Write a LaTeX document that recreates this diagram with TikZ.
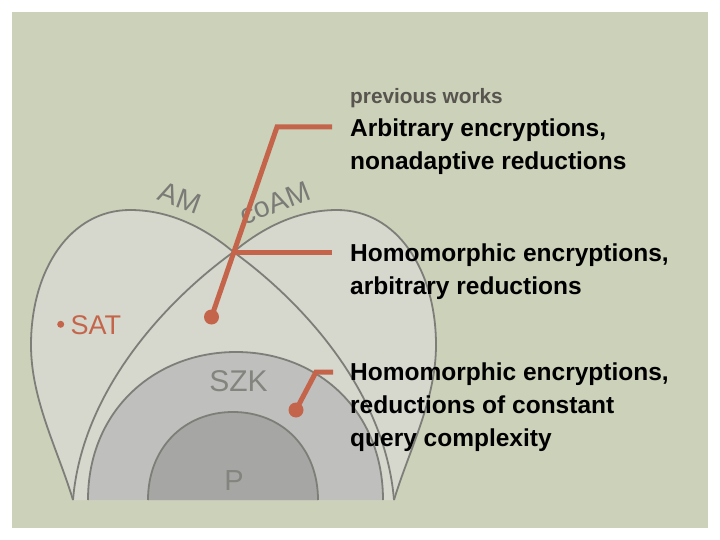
\documentclass[tikz,border=0pt]{standalone}
\usepackage{fontspec}
\setmainfont{Liberation Sans}
\definecolor{bgc}{RGB}{204,209,186}
\definecolor{lightfill}{RGB}{214,215,205}
\definecolor{szkfill}{RGB}{191,191,190}
\definecolor{pfill}{RGB}{166,166,165}
\definecolor{edge}{RGB}{125,126,120}
\definecolor{orng}{RGB}{196,101,75}
\definecolor{lbl}{RGB}{122,123,118}
\definecolor{prevc}{RGB}{88,84,78}
\tikzset{
  outline/.style={draw=edge, line width=1.8pt},
  conn/.style={draw=orng, line width=5pt},
  dotnode/.style={circle, fill=orng, inner sep=0pt, minimum size=15pt},
  desc/.style={anchor=base west, inner sep=0pt, font=\fontsize{24.5}{33}\selectfont\bfseries, text=black},
  setlbl/.style={inner sep=0pt, text=lbl, font=\fontsize{28.5}{32}\selectfont},
}
\begin{document}
\begin{tikzpicture}[x=1pt, y=-1pt]
\useasboundingbox (0,0) rectangle (720,540);
\fill[white] (0,0) rectangle (720,540);
\fill[bgc] (12,12) rectangle (708,528);
% lobes
\coordinate (X) at (233.5,252);
\coordinate (A) at (73,500);
\coordinate (B) at (394,500);
\fill[lightfill] (A) .. controls (58,450) and (31,400) .. (31,345)
  .. controls (31,270) and (70,210) .. (130,210)
  .. controls (170,210) and (205,228) .. (X)
  .. controls (300,300) and (385,390) .. (B) -- cycle;
\fill[lightfill] (B) .. controls (409,450) and (436,400) .. (436,345)
  .. controls (436,270) and (397,210) .. (337,210)
  .. controls (297,210) and (262,228) .. (X)
  .. controls (167,300) and (82,390) .. (A) -- cycle;
\draw[outline] (A) .. controls (58,450) and (31,400) .. (31,345)
  .. controls (31,270) and (70,210) .. (130,210)
  .. controls (170,210) and (205,228) .. (X)
  .. controls (300,300) and (385,390) .. (B);
\draw[outline] (B) .. controls (409,450) and (436,400) .. (436,345)
  .. controls (436,270) and (397,210) .. (337,210)
  .. controls (297,210) and (262,228) .. (X)
  .. controls (167,300) and (82,390) .. (A);
% SZK
\fill[szkfill] (88,500) .. controls (88,410) and (155,352) .. (236,352)
  .. controls (317,352) and (383,410) .. (383,500) -- cycle;
\draw[outline] (88,500) .. controls (88,410) and (155,352) .. (236,352)
  .. controls (317,352) and (383,410) .. (383,500);
% P
\fill[pfill] (148,500) .. controls (148,448) and (184,412) .. (233,412)
  .. controls (282,412) and (318,448) .. (318,500) -- cycle;
\draw[outline] (148,500) .. controls (148,448) and (184,412) .. (233,412)
  .. controls (282,412) and (318,448) .. (318,500);
% labels on sets
\node[setlbl, rotate=-20] (am) at (180,198) {AM};
\node[setlbl, rotate=21] (coam) at (275,203) {coAM};
\node[setlbl, font=\fontsize{30}{34}\selectfont, text=edge!95!white, anchor=base] (szk) at (238.5,391.5) {SZK};
\node[setlbl, font=\fontsize{29}{34}\selectfont, text=edge!95!white, anchor=base] (p) at (234,490.5) {P};
% SAT
\node[circle, fill=orng, inner sep=0pt, minimum size=7pt] (satdot) at (60.7,324.3) {};
\node[anchor=base west, inner sep=0pt, text=orng, font=\fontsize{27}{30}\selectfont] (sat) at (70.5,334.3) {SAT};
% text blocks
\node[anchor=base west, inner sep=0pt, text=prevc, font=\fontsize{20.8}{24}\selectfont\bfseries] (prev) at (350,104) {previous works};
\node[desc] (t1) at (350,137) {\vtop{\hbox{Arbitrary encryptions,}\hbox{nonadaptive reductions}}};
\node[desc] (t2) at (350,261) {\vtop{\hbox{Homomorphic encryptions,}\hbox{arbitrary reductions}}};
\node[desc] (t3) at (350,380) {\vtop{\hbox{Homomorphic encryptions,}\hbox{reductions of constant}\hbox{query complexity}}};
% connectors
\node[dotnode] (d1) at (211.5,317) {};
\coordinate (c1) at (277,127);
\coordinate (e1) at (332,127);
\draw[conn] (d1.center) -- (c1) -- (e1);
\coordinate (e2) at (332,252);
\draw[conn] (X) -- (e2);
\node[dotnode] (d3) at (296,410) {};
\coordinate (c3) at (316,372);
\coordinate (e3) at (333,372);
\draw[conn] (d3.center) -- (c3) -- (e3);
\end{tikzpicture}
\end{document}
